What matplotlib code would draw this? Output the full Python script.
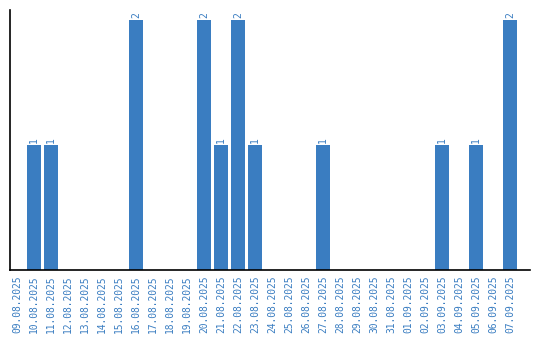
import datetime as dt

import matplotlib
matplotlib.use("Agg")
import matplotlib.pyplot as plt

# one bar per day, 09.08.2025 .. 07.09.2025
start = dt.date(2025, 8, 9)
days = [start + dt.timedelta(days=i) for i in range(30)]
date_labels = [d.strftime("%d.%m.%Y") for d in days]

counts_by_day = {
    "10.08.2025": 1, "11.08.2025": 1, "16.08.2025": 2, "20.08.2025": 2,
    "21.08.2025": 1, "22.08.2025": 2, "23.08.2025": 1, "27.08.2025": 1,
    "03.09.2025": 1, "05.09.2025": 1, "07.09.2025": 2,
}
counts = [counts_by_day.get(lbl, 0) for lbl in date_labels]

BLUE = "#3a7dc1"

fig = plt.figure(figsize=(5.4, 3.4), dpi=100)
ax = fig.add_axes([10 / 540, 70 / 340, 520 / 540, 260 / 340])

x = list(range(len(date_labels)))
ax.bar(x, counts, width=0.82, color=BLUE)
for xi, c in zip(x, counts):
    if c:
        ax.text(xi, c + 0.02, str(c), rotation=90, ha="center", va="bottom",
                color=BLUE, fontsize=7, family="DejaVu Sans Mono")

ax.set_xlim(-0.41, 30.18)
ax.set_ylim(0, 2.08)
ax.set_xticks(x)
ax.set_xticklabels(date_labels, rotation=90, color=BLUE, fontsize=6.9,
                   family="DejaVu Sans Mono")
ax.tick_params(axis="x", length=0, pad=4)
ax.set_yticks([])
for side in ("top", "right"):
    ax.spines[side].set_visible(False)
for side in ("left", "bottom"):
    ax.spines[side].set_linewidth(1.2)

fig.savefig("out.png", dpi=100)
